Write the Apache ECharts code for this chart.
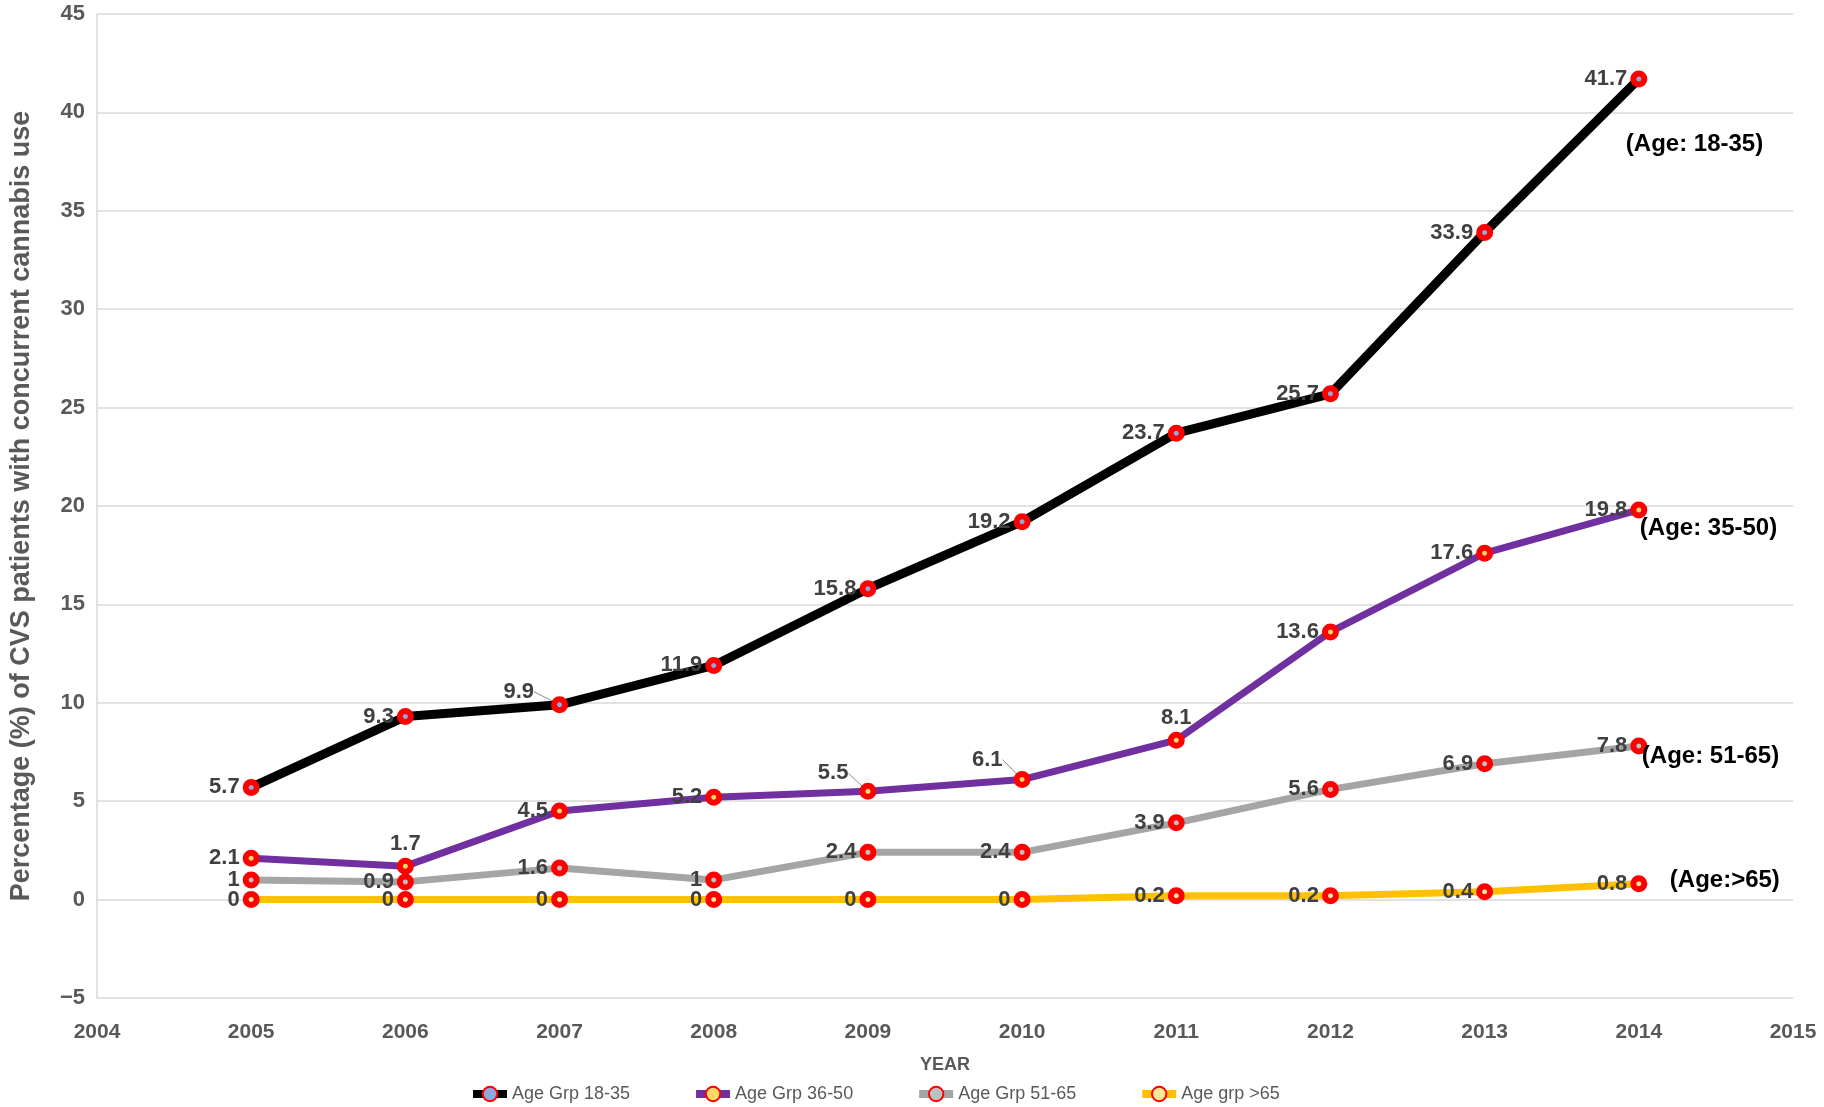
<!DOCTYPE html>
<html>
<head>
<meta charset="utf-8">
<script src="https://cdn.jsdelivr.net/npm/echarts@6/dist/echarts.min.js"></script>
<style>html,body{margin:0;padding:0;background:#fff}#chart{width:1824px;height:1107px}</style>
</head>
<body>
<div id="chart"></div>
<script>
const years = [2005, 2006, 2007, 2008, 2009, 2010, 2011, 2012, 2013, 2014];
const grp18to35 = [5.7, 9.3, 9.9, 11.9, 15.8, 19.2, 23.7, 25.7, 33.9, 41.7];
const grp36to50 = [2.1, 1.7, 4.5, 5.2, 5.5, 6.1, 8.1, 13.6, 17.6, 19.8];
const grp51to65 = [1, 0.9, 1.6, 1, 2.4, 2.4, 3.9, 5.6, 6.9, 7.8];
const grpOver65 = [0, 0, 0, 0, 0, 0, 0.2, 0.2, 0.4, 0.8];
const seriesNames = ['Age Grp 18-35', 'Age Grp 36-50', 'Age Grp 51-65', 'Age grp >65'];
const endNotes = ['(Age: 18-35)', '(Age: 35-50)', '(Age: 51-65)', '(Age:>65)'];
const yTitle = 'Percentage (%) of CVS patients with concurrent cannabis use';
const xTitle = 'YEAR';

const allValues = [grp18to35, grp36to50, grp51to65, grpOver65];
const lineColors = ['#000000', '#7030A0', '#A5A5A5', '#FFC000'];
const lineWidths = [9, 7, 7, 7];
const dotColors = ['#8fa8dc', '#ffd966', '#bfbfbf', '#ffe699'];
const noteOffsets = [[-13, 65], [1, 18], [3, 10], [31, -3]];

// label tweaks: [seriesIndex][dataIndex]
const labelTweaks = {
  0: { 2: { move: [-14, -13], leader: true }, 3: { offset: [0, -20] } },
  1: { 1: { position: 'top', offset: [10, 0] }, 3: { offset: [0, -20] },
       4: { move: [-8, -18], leader: true }, 5: { move: [-8, -20], leader: true },
       6: { position: 'top', offset: [-2, 0] } },
  2: { 1: { offset: [0, 3] } }
};

const labelFont = "'Liberation Sans', Arial, sans-serif";

const series = allValues.map((vals, si) => ({
  name: seriesNames[si],
  type: 'line',
  z: 2 + si,
  data: vals.map((v, i) => {
    const t = (labelTweaks[si] || {})[i];
    const item = { value: [years[i], v] };
    if (t) {
      item.label = {};
      if (t.position) item.label.position = t.position;
      if (t.offset) item.label.offset = t.offset;
      if (t.leader) item.labelLine = { show: true, lineStyle: { color: '#8c8c8c', width: 1 } };
    }
    return item;
  }),
  lineStyle: { color: lineColors[si], width: lineWidths[si] },
  symbol: 'circle',
  symbolSize: 11,
  itemStyle: { color: dotColors[si], borderColor: '#ff0000', borderWidth: 6 },
  label: {
    show: true, position: 'left', distance: 3,
    color: '#404040', fontFamily: labelFont, fontWeight: 'bold', fontSize: 22
  },
  labelLayout: (p) => {
    const t = (labelTweaks[si] || {})[p.dataIndex];
    if (t && t.move) return { dx: t.move[0], dy: t.move[1] };
    return {};
  },
  markPoint: {
    symbol: 'circle', symbolSize: 0,
    itemStyle: { color: 'transparent' },
    data: [{ coord: [years[years.length - 1], vals[vals.length - 1]] }],
    label: {
      show: true, formatter: endNotes[si], position: noteOffsets[si],
      align: 'left', verticalAlign: 'middle',
      color: '#000000', fontFamily: labelFont, fontWeight: 'bold', fontSize: 24
    }
  },
  animation: false
}));

const chart = echarts.init(document.getElementById('chart'));
chart.setOption({
  animation: false,
  grid: { left: 93, right: 31, top: 14, bottom: 109 },
  xAxis: {
    type: 'value', min: 2004, max: 2015, interval: 1,
    name: xTitle, nameLocation: 'middle', nameGap: 58,
    nameTextStyle: { color: '#595959', fontFamily: labelFont, fontWeight: 'bold', fontSize: 18 },
    axisLine: { show: false }, axisTick: { show: false }, splitLine: { show: false },
    axisLabel: { margin: 24, color: '#595959', fontFamily: labelFont, fontWeight: 'bold', fontSize: 21, formatter: v => String(v) }
  },
  yAxis: {
    type: 'value', min: -5, max: 45, interval: 5,
    name: yTitle, nameLocation: 'middle', nameGap: 62,
    nameTextStyle: { color: '#595959', fontFamily: labelFont, fontWeight: 'bold', fontSize: 27 },
    axisLine: { show: true, lineStyle: { color: '#d9d9d9', width: 1.5 } },
    axisTick: { show: false },
    splitLine: { show: true, lineStyle: { color: '#d9d9d9', width: 1.5 } },
    axisLabel: { margin: 12, color: '#595959', fontFamily: labelFont, fontWeight: 'bold', fontSize: 22,
      formatter: v => (v < 0 ? '\u2212' + Math.abs(v) : String(v)) }
  },
  legend: {
    left: 464, top: 1080, itemWidth: 34, itemHeight: 18, itemGap: 62,
    data: seriesNames.map((n) => ({ name: n, lineStyle: { width: 8 } })),
    textStyle: { color: '#595959', fontFamily: labelFont, fontSize: 18 }
  },
  series: series
});
</script>
</body>
</html>
